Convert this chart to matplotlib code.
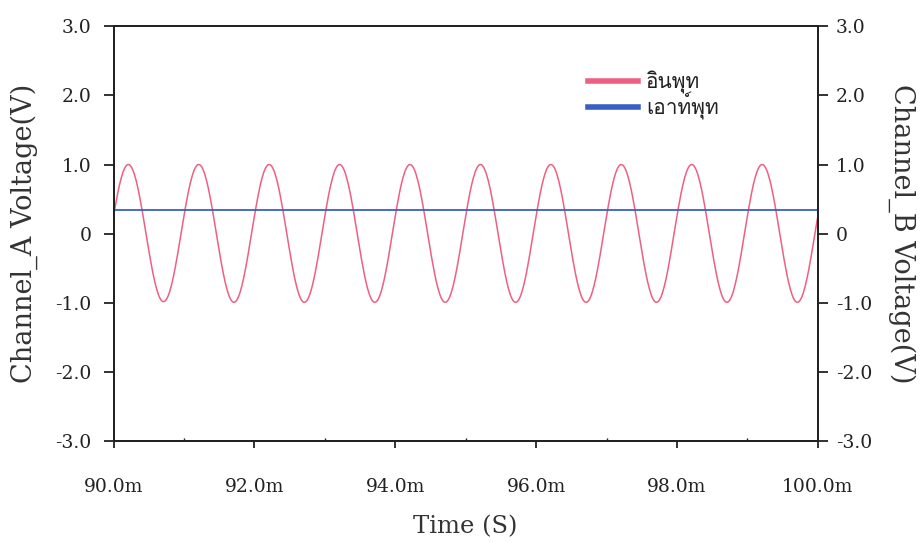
import numpy as np
import matplotlib
matplotlib.use("Agg")
import matplotlib.pyplot as plt
from matplotlib import font_manager
from matplotlib.ft2font import FT2Font
from matplotlib.ticker import MultipleLocator

# Time axis (ms) and voltage ranges
x_min_ms, x_max_ms = 90.0, 100.0
y_min, y_max = -3.0, 3.0
x_tick_labels = ["90.0m", "92.0m", "94.0m", "96.0m", "98.0m", "100.0m"]
y_tick_labels = ["-3.0", "-2.0", "-1.0", "0", "1.0", "2.0", "3.0"]

# Channel A (input): turning points of the trace (time in ms, volts)
extrema_times_ms = [89.71, 90.21, 90.71, 91.21, 91.71, 92.21, 92.71, 93.21, 93.71,
                    94.21, 94.71, 95.21, 95.71, 96.21, 96.71, 97.21, 97.71,
                    98.21, 98.71, 99.21, 99.71, 100.21]
extrema_values = [-1.0, 1.0, -0.98, 1.0, -0.99, 1.0, -0.99, 1.0, -0.99,
                  1.0, -0.99, 1.0, -0.99, 1.0, -0.99, 1.0, -0.99,
                  1.0, -0.99, 1.0, -0.99, 1.0]

# Channel B (output): start/end level of the trace
output_times_ms = [90.0, 100.0]
output_values = [0.35, 0.35]

legend_labels = ["อินพุท", "เอาท์พุท"]
red = "#ee6082"
blue = "#3a5fc4"
ink = "#222222"


def thai_font():
    for f in font_manager.fontManager.ttflist:
        try:
            if 0x0E2D in FT2Font(f.fname).get_charmap():
                return f.name
        except Exception:
            pass
    return None


# Smooth half-cosine swing between consecutive turning points
seg_t, seg_v = [], []
for (t0, v0), (t1, v1) in zip(zip(extrema_times_ms, extrema_values),
                              zip(extrema_times_ms[1:], extrema_values[1:])):
    s = np.linspace(0, 1, 40, endpoint=False)
    seg_t.append(t0 + (t1 - t0) * s)
    seg_v.append(v0 + (v1 - v0) * (1 - np.cos(np.pi * s)) / 2)
ch_a_t = np.concatenate(seg_t)
ch_a_v = np.concatenate(seg_v)

plt.rcParams["font.family"] = ["DejaVu Serif"]

fig = plt.figure(figsize=(9.23, 5.43), dpi=100)
ax = fig.add_axes([0.123, 0.187, 0.763, 0.765])
ax2 = ax.twinx()

ln_a, = ax.plot(ch_a_t, ch_a_v, color=red, lw=1.1)
ln_b, = ax2.plot(output_times_ms, output_values, color=blue, lw=1.3)

for a in (ax, ax2):
    a.set_xlim(x_min_ms, x_max_ms)
    a.set_ylim(y_min, y_max)
    for sp in a.spines.values():
        sp.set_linewidth(1.4)
        sp.set_color(ink)

ax.set_xticks(np.linspace(x_min_ms, x_max_ms, len(x_tick_labels)))
ax.set_xticklabels(x_tick_labels)
ax.xaxis.set_minor_locator(MultipleLocator(1.0))
yt = np.linspace(y_min, y_max, len(y_tick_labels))
ax.set_yticks(yt)
ax.set_yticklabels(y_tick_labels)
ax2.set_yticks(yt)
ax2.set_yticklabels(y_tick_labels)

ax.tick_params(axis="x", which="major", direction="out", length=5, width=1.3,
               labelsize=13.5, pad=21, colors=ink)
ax.tick_params(axis="x", which="minor", direction="in", length=2, width=1.0,
               colors=ink)
ax.tick_params(axis="y", direction="out", length=7, width=1.3, labelsize=13.5,
               pad=9, colors=ink)
ax2.tick_params(axis="y", direction="out", length=7, width=1.3, labelsize=13.5,
                pad=6, colors=ink)

ax.set_xlabel("Time (S)", fontsize=17.5, labelpad=14, color="#333333")
ax.set_ylabel("Channel_A Voltage(V)", fontsize=19.5, labelpad=12, color="#333333")
ax2.set_ylabel("Channel_B Voltage(V)", fontsize=19.5, rotation=-90, labelpad=31,
               color="#333333")

tf = thai_font()
fam = [tf, "DejaVu Sans"] if tf else ["DejaVu Sans"]
leg = ax2.legend([ln_a, ln_b], legend_labels, loc="upper left",
                 bbox_to_anchor=(0.659, 0.918), frameon=False,
                 prop={"family": fam, "size": 15}, handlelength=2.4,
                 handletextpad=0.4, labelspacing=-0.1, borderpad=0)
for h in leg.get_lines():
    h.set_linewidth(4)
for t in leg.get_texts():
    t.set_color(ink)

fig.savefig("out.png", dpi=100, facecolor="white")
